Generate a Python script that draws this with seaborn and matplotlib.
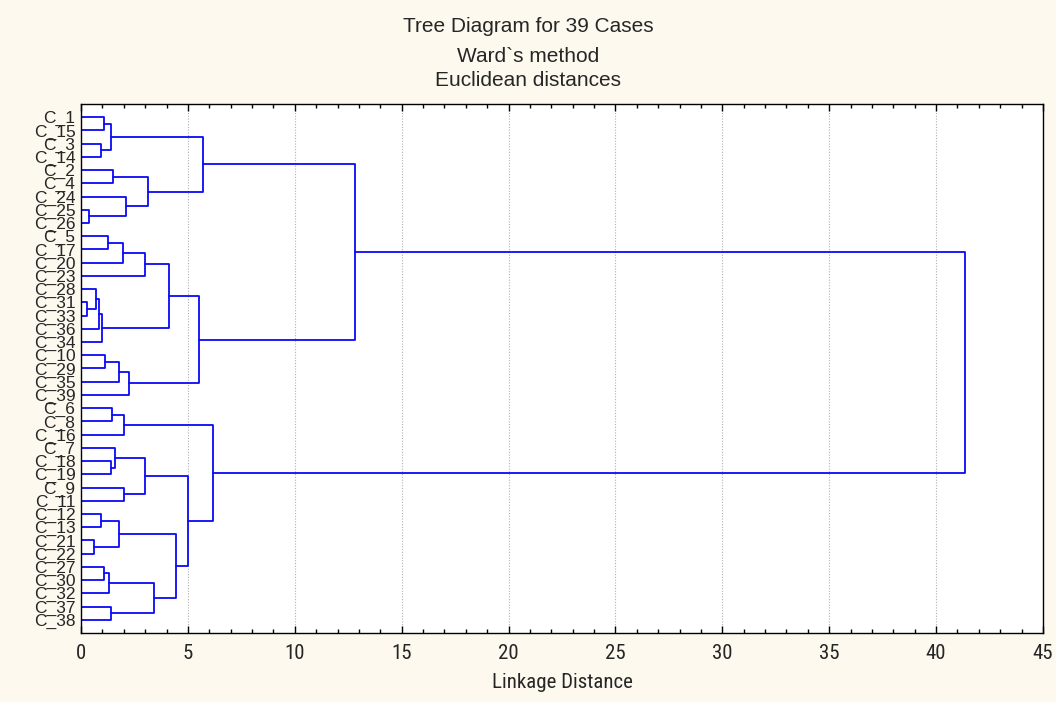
import numpy as np
import pandas as pd
import matplotlib
matplotlib.use("Agg")
import matplotlib.pyplot as plt
from matplotlib import font_manager
import seaborn as sns

# ---- data ----
leaf_labels = ["C_1", "C_15", "C_3", "C_14", "C_2", "C_4", "C_24", "C_25", "C_26",
               "C_5", "C_17", "C_20", "C_23", "C_28", "C_31", "C_33", "C_36", "C_34",
               "C_10", "C_29", "C_35", "C_39", "C_6", "C_8", "C_16", "C_7", "C_18",
               "C_19", "C_9", "C_11", "C_12", "C_13", "C_21", "C_22", "C_27", "C_30",
               "C_32", "C_37", "C_38"]
# merges: ids < 39 are leaves (in display order), id 39+k is merge k
merge_a = [0, 2, 39, 4, 7, 6, 42, 41, 9, 47, 48, 14, 13, 51, 52, 49, 18, 55, 56, 54,
           46, 22, 60, 26, 25, 28, 63, 30, 32, 66, 34, 69, 37, 70, 68, 65, 61, 59]
merge_b = [1, 3, 40, 5, 8, 43, 44, 45, 10, 11, 12, 15, 50, 16, 17, 53, 19, 20, 21, 57,
           58, 23, 24, 27, 62, 29, 64, 31, 33, 67, 35, 36, 38, 71, 72, 73, 74, 75]
merge_h = [1.09, 0.93, 1.40, 1.48, 0.39, 2.12, 3.15, 5.72, 1.26, 1.95, 2.99, 0.29,
           0.69, 0.84, 0.97, 4.13, 1.14, 1.79, 2.26, 5.53, 12.84, 1.46, 1.99, 1.40,
           1.60, 2.01, 2.99, 0.93, 0.61, 1.79, 1.07, 1.32, 1.40, 3.40, 4.45, 4.99,
           6.18, 41.36]
x_ticks = [0, 5, 10, 15, 20, 25, 30, 35, 40, 45]

# ---- build dendrogram path table ----
n = len(leaf_labels)
pos = {i: i + 1 for i in range(n)}
hgt = {i: 0.0 for i in range(n)}
rows = []
for k, (a, b, h) in enumerate(zip(merge_a, merge_b, merge_h)):
    pts = [(hgt[a], pos[a]), (h, pos[a]), (h, pos[b]), (hgt[b], pos[b])]
    for j, (xx, yy) in enumerate(pts):
        rows.append({"link": k, "order": j, "x": xx, "y": yy})
    nid = n + k
    pos[nid] = (pos[a] + pos[b]) / 2.0
    hgt[nid] = h
df = pd.DataFrame(rows)

# ---- fonts ----
names = {f.name for f in font_manager.fontManager.ttflist}
narrow = None
for cand in ["Liberation Sans Narrow", "DejaVu Sans Condensed", "Roboto Condensed",
             "Open Sans Condensed"]:
    if cand in names:
        narrow = cand
        break

# ---- figure ----
sns.set_style("white")
plt.rcParams["font.family"] = ["Liberation Sans", "DejaVu Sans"]
bg = "#FDF9EF"
fig = plt.figure(figsize=(10.56, 7.02), dpi=100, facecolor=bg)
ax = fig.add_axes([0.0767, 0.0983, 0.9110, 0.7536])
ax.set_facecolor("white")

sns.lineplot(data=df, x="x", y="y", units="link", estimator=None, sort=False,
             color="#0A0AF5", linewidth=1.3, ax=ax, legend=False)

tick_family = [narrow, "Liberation Sans", "DejaVu Sans"] if narrow else ["Liberation Sans", "DejaVu Sans"]
tick_size = 15 if narrow else 13

ax.set_xlim(0, 45)
ax.set_ylim(40, 0)
ax.set_xticks(x_ticks)
ax.set_xticks(np.arange(0, 46, 1), minor=True)
ax.set_xticklabels([str(t) for t in x_ticks], fontsize=tick_size, family=tick_family)
ax.set_yticks(range(1, n + 1))
ax.set_yticklabels(leaf_labels, fontsize=12.5)
ax.tick_params(axis="y", length=0, pad=4)
ax.tick_params(axis="x", which="major", direction="in", length=5, top=True,
               bottom=True, pad=8, color="black", width=1)
ax.tick_params(axis="x", which="minor", direction="in", length=3, top=True,
               bottom=True, color="black", width=1)
ax.xaxis.grid(True, which="major", linestyle=(0, (1, 1.5)), color="#b0b0b0",
              linewidth=0.8)
ax.yaxis.grid(False)
for s in ax.spines.values():
    s.set_visible(True)
    s.set_color("black")
    s.set_linewidth(1.0)
ax.set_xlabel("Linkage Distance", fontsize=tick_size, family=tick_family, labelpad=7)
ax.set_ylabel("")

fig.text(0.5, 0.962, "Tree Diagram for 39 Cases", ha="center", va="center", fontsize=15)
fig.text(0.5, 0.920, "Ward`s method", ha="center", va="center", fontsize=15)
fig.text(0.5, 0.886, "Euclidean distances", ha="center", va="center", fontsize=15)

fig.savefig("out.png", dpi=100, facecolor=bg)
